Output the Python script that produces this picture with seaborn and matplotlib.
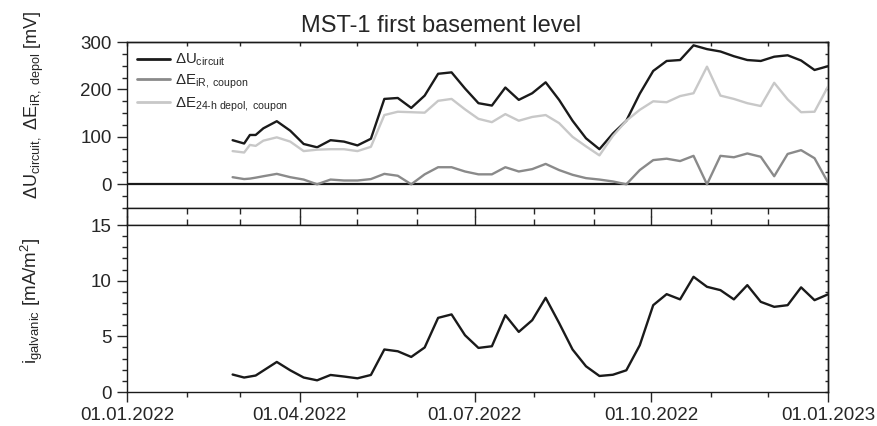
import numpy as np
import pandas as pd
import matplotlib
matplotlib.use("Agg")
import matplotlib.pyplot as plt
import matplotlib.dates as mdates
from matplotlib.ticker import MultipleLocator, NullFormatter
import seaborn as sns

# ---------------- data ----------------
title = "MST-1 first basement level"

dates_mv = ["2022-02-25", "2022-03-03", "2022-03-06", "2022-03-09", "2022-03-13",
            "2022-03-20", "2022-03-27", "2022-04-03", "2022-04-10", "2022-04-17",
            "2022-04-24", "2022-05-01", "2022-05-08", "2022-05-15", "2022-05-22",
            "2022-05-29", "2022-06-05", "2022-06-12", "2022-06-19", "2022-06-26",
            "2022-07-03", "2022-07-10", "2022-07-17", "2022-07-24", "2022-07-31",
            "2022-08-07", "2022-08-14", "2022-08-21", "2022-08-28", "2022-09-04",
            "2022-09-11", "2022-09-18", "2022-09-25", "2022-10-02", "2022-10-09",
            "2022-10-16", "2022-10-23", "2022-10-30", "2022-11-06", "2022-11-13",
            "2022-11-20", "2022-11-27", "2022-12-04", "2022-12-11", "2022-12-18",
            "2022-12-25", "2023-01-01"]

u_circuit = [93, 86, 104, 104, 118, 133, 113, 85, 78, 93, 90, 82, 96, 180, 182, 161,
             187, 233, 236, 202, 171, 166, 204, 178, 192, 215, 178, 134, 97, 74, 107,
             134, 191, 239, 260, 262, 293, 285, 280, 270, 262, 260, 269, 272, 261, 241, 249]

e_ir_coupon = [15, 11, 12, 14, 17, 22, 15, 10, 0, 10, 8, 8, 11, 22, 18, 0,
               21, 36, 36, 27, 21, 21, 36, 27, 32, 43, 30, 20, 13, 10, 6,
               0, 30, 51, 54, 49, 60, 0, 60, 57, 65, 58, 17, 64, 72, 55, 4]

e_depol_coupon = [70, 67, 83, 81, 92, 99, 90, 70, 73, 74, 74, 70, 79, 146, 153, 152,
                  151, 176, 180, 158, 138, 131, 148, 134, 142, 146, 129, 100, 80, 61, 102,
                  134, 157, 175, 173, 186, 192, 248, 187, 180, 171, 165, 214, 179, 152, 153, 206]

dates_i = ["2022-02-25", "2022-03-03", "2022-03-09", "2022-03-20", "2022-03-27",
           "2022-04-03", "2022-04-10", "2022-04-17", "2022-04-24", "2022-05-01",
           "2022-05-08", "2022-05-15", "2022-05-22", "2022-05-29", "2022-06-05",
           "2022-06-12", "2022-06-19", "2022-06-26", "2022-07-03", "2022-07-10",
           "2022-07-17", "2022-07-24", "2022-07-31", "2022-08-07", "2022-08-14",
           "2022-08-21", "2022-08-28", "2022-09-04", "2022-09-11", "2022-09-18",
           "2022-09-25", "2022-10-02", "2022-10-09", "2022-10-16", "2022-10-23",
           "2022-10-30", "2022-11-06", "2022-11-13", "2022-11-20", "2022-11-27",
           "2022-12-04", "2022-12-11", "2022-12-18", "2022-12-25", "2023-01-01"]

i_galvanic = [1.57, 1.30, 1.48, 2.70, 1.95, 1.30, 1.05, 1.53, 1.39, 1.23, 1.53, 3.82,
              3.66, 3.15, 4.0, 6.66, 6.97, 5.1, 3.96, 4.11, 6.9, 5.4, 6.45, 8.46, 6.2,
              3.82, 2.31, 1.44, 1.55, 1.95, 4.2, 7.8, 8.79, 8.32, 10.35, 9.45, 9.15,
              8.32, 9.6, 8.1, 7.65, 7.8, 9.4, 8.25, 8.77]

label_u = r"$\Delta\mathrm{U}_{\mathrm{circuit}}$"
label_ir = r"$\Delta\mathrm{E}_{\mathrm{iR,\ coupon}}$"
label_depol = r"$\Delta\mathrm{E}_{\mathrm{24\text{-}h\ depol,\ coupon}}$"
ylabel_top = r"$\Delta\mathrm{U}_{\mathrm{circuit},}\ \Delta\mathrm{E}_{\mathrm{iR,\ depol}}\ \mathrm{[mV]}$"
ylabel_bot = r"$\mathrm{i}_{\mathrm{galvanic}}\ \mathrm{[mA/m^{2}]}$"

x_start, x_end = "2022-01-01", "2023-01-01"

# ---------------- style ----------------
sns.set_style("ticks")
plt.rcParams["font.family"] = ["Liberation Sans", "DejaVu Sans"]
plt.rcParams["mathtext.fontset"] = "custom"
plt.rcParams["mathtext.rm"] = "Liberation Sans"
plt.rcParams["mathtext.it"] = "Liberation Sans:italic"
plt.rcParams["mathtext.bf"] = "Liberation Sans:bold"
plt.rcParams["axes.linewidth"] = 1.0
plt.rcParams["axes.edgecolor"] = "#1a1a1a"

c_black = "#1a1a1a"
c_dark = "#8a8a8a"
c_light = "#c8c8c8"
lw = 1.7

df_mv = pd.DataFrame({"date": pd.to_datetime(dates_mv), "u": u_circuit,
                      "ir": e_ir_coupon, "depol": e_depol_coupon})
df_i = pd.DataFrame({"date": pd.to_datetime(dates_i), "i": i_galvanic})

fig = plt.figure(figsize=(8.77, 4.26), dpi=100)
L, W = 0.1448, 0.7993
ax_top = fig.add_axes([L, 0.5117, W, 0.3897])
ax_mid = fig.add_axes([L, 0.4718, W, 0.0399])
ax_bot = fig.add_axes([L, 0.0798, W, 0.3920])

xlim = (pd.Timestamp(x_start), pd.Timestamp(x_end))
month_ticks = mdates.date2num(pd.date_range(x_start, x_end, freq="MS"))

# ---------------- top panel ----------------
ax_top.axhline(0, color=c_black, lw=1.6, zorder=1)
sns.lineplot(data=df_mv, x="date", y="u", ax=ax_top, color=c_black, lw=lw, label=label_u)
sns.lineplot(data=df_mv, x="date", y="ir", ax=ax_top, color=c_dark, lw=lw, label=label_ir)
sns.lineplot(data=df_mv, x="date", y="depol", ax=ax_top, color=c_light, lw=lw, label=label_depol)
ax_top.set_xlim(*xlim)
ax_top.set_ylim(-50, 300)
ax_top.yaxis.set_major_locator(MultipleLocator(100))
ax_top.yaxis.set_minor_locator(MultipleLocator(25))
ax_top.set_yticks([0, 100, 200, 300])
ax_top.tick_params(axis="y", which="major", direction="out", length=7, width=1, labelsize=13.5, pad=4)
ax_top.tick_params(axis="y", which="minor", direction="out", length=3.6, width=1)
ax_top.tick_params(axis="x", which="both", bottom=False, top=False, labelbottom=False)
ax_top.set_xlabel("")
ax_top.set_ylabel("")
leg = ax_top.legend(loc="upper left", frameon=False, fontsize=10.8, handlelength=2.2,
                    handletextpad=0.35, labelspacing=0.3, borderaxespad=0.25,
                    bbox_to_anchor=(0.0, 1.0))
for h in leg.get_lines():
    h.set_linewidth(2.0)

sec_r = ax_top.secondary_yaxis("right")
sec_r.set_yticks(np.arange(-50, 301, 25))
sec_r.tick_params(axis="y", direction="in", length=2.5, width=1, labelright=False)
sec_t = ax_top.secondary_xaxis("top")
sec_t.set_xticks(month_ticks)
sec_t.tick_params(axis="x", direction="in", length=3, width=1, labeltop=False)

# ---------------- middle strip ----------------
ax_mid.xaxis_date()
ax_mid.set_xlim(*xlim)
ax_mid.set_ylim(0, 1)
ax_mid.set_yticks([])
ax_mid.xaxis.set_major_locator(mdates.MonthLocator(bymonth=[1, 4, 7, 10]))
ax_mid.xaxis.set_minor_locator(mdates.MonthLocator())
ax_mid.xaxis.set_major_formatter(NullFormatter())
ax_mid.tick_params(axis="x", which="major", direction="in", length=6.3, width=1,
                   top=True, bottom=True, labelbottom=False)
ax_mid.tick_params(axis="x", which="minor", direction="in", length=4.6, width=1,
                   top=True, bottom=True)

# ---------------- bottom panel ----------------
sns.lineplot(data=df_i, x="date", y="i", ax=ax_bot, color=c_black, lw=lw)
ax_bot.set_xlim(*xlim)
ax_bot.set_ylim(0, 15)
ax_bot.yaxis.set_major_locator(MultipleLocator(5))
ax_bot.yaxis.set_minor_locator(MultipleLocator(1))
ax_bot.xaxis.set_major_locator(mdates.MonthLocator(bymonth=[1, 4, 7, 10]))
ax_bot.xaxis.set_minor_locator(mdates.MonthLocator())
ax_bot.xaxis.set_major_formatter(mdates.DateFormatter("%d.%m.%Y"))
ax_bot.tick_params(axis="both", which="major", direction="out", length=7, width=1, labelsize=13.5, pad=4)
ax_bot.tick_params(axis="both", which="minor", direction="out", length=3.6, width=1)
ax_bot.tick_params(axis="x", which="both", top=False)
ax_bot.set_xlabel("")
ax_bot.set_ylabel("")
sec_rb = ax_bot.secondary_yaxis("right")
sec_rb.set_yticks(np.arange(0, 16, 1))
sec_rb.tick_params(axis="y", direction="in", length=2.5, width=1, labelright=False)

# ---------------- labels ----------------
fig.text(0.039, 1 - 105 / 426, ylabel_top, rotation=90, ha="center", va="center", fontsize=13)
fig.text(0.036, 1 - 301 / 426, ylabel_bot, rotation=90, ha="center", va="center", fontsize=13.5)
fig.text(441 / 877, 1 - 32 / 426, title, ha="center", va="baseline", fontsize=17)

fig.savefig("out.png", dpi=100)
